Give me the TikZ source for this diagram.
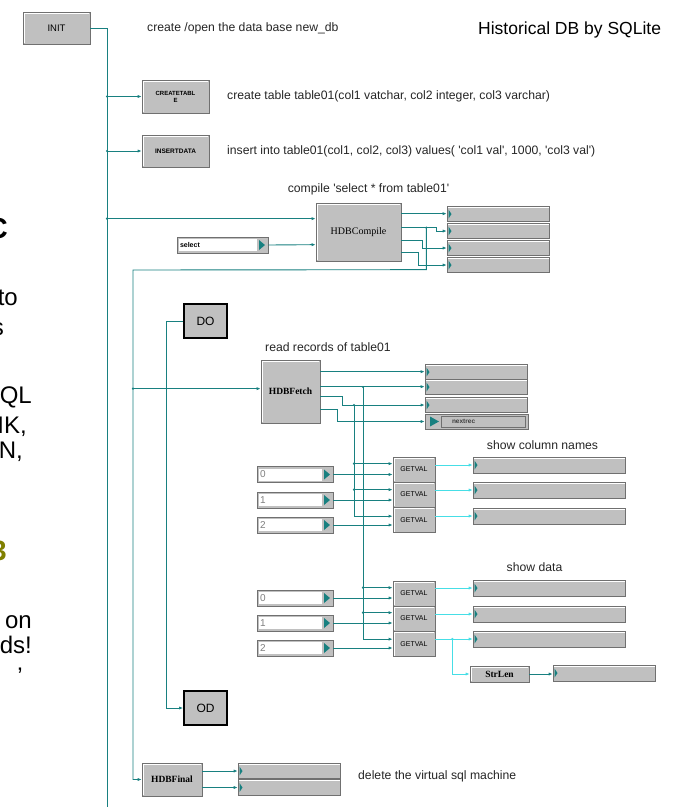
\documentclass[tikz,border=0pt]{standalone}
\usepackage{fontspec}
\setmainfont{Liberation Sans}
\newfontfamily\blockserif{Liberation Serif}
\usetikzlibrary{arrows.meta,calc}

\definecolor{wireteal}{RGB}{24,128,128}
\definecolor{wirecyan}{RGB}{70,222,230}
\definecolor{panelgray}{RGB}{192,192,192}
\definecolor{edgegray}{RGB}{112,112,112}
\definecolor{olivetext}{RGB}{128,128,0}
\newcommand\sqmark{\textquotesingle}

\tikzset{
  px/.style={font=\fontsize{#1}{#1}\selectfont},
  lbl/.style={inner sep=0pt, px=12.2, text=black!85},
  frag/.style={inner sep=0pt, anchor=base east, px=24},
  block/.style={rectangle, inner sep=0pt, align=center, fill=panelgray, draw=edgegray, line width=0.7pt,
    path picture={\draw[white, line width=0.9pt]
      ([shift={(1pt,1pt)}]path picture bounding box.south west) |- ([shift={(-1pt,-1pt)}]path picture bounding box.north east);}},
  sblock/.style={block, font=\blockserif\bfseries\fontsize{9.5}{9.5}\selectfont},
  loopbox/.style={rectangle, inner sep=0pt, fill=panelgray, draw=black, line width=1.8pt,
    minimum width=43pt, minimum height=34pt, px=12},
  outbar/.style={rectangle, inner sep=0pt, fill=panelgray, draw=edgegray, line width=0.6pt,
    minimum height=15pt,
    path picture={
      \draw[white, line width=0.8pt] ([yshift=-1pt]path picture bounding box.north west) -- ([yshift=-1pt]path picture bounding box.north east);
      \fill[wireteal] ([shift={(1.5pt,4.5pt)}]path picture bounding box.west) -- ++(3pt,-4.5pt) -- ++(-3pt,-4.5pt) -- cycle;}},
  infield/.style={rectangle, inner xsep=3pt, inner ysep=0pt, fill=panelgray, draw=edgegray, line width=0.6pt,
    minimum height=16pt, text width=70pt, align=left, px=10, text=gray,
    path picture={
      \fill[white] ([shift={(2pt,2pt)}]path picture bounding box.south west) rectangle ([shift={(-11pt,-2pt)}]path picture bounding box.north east);
      \fill[wireteal] ([shift={(-9pt,5pt)}]path picture bounding box.east) -- ++(6pt,-5pt) -- ++(-6pt,-5pt) -- cycle;}},
  wire/.style={draw=wireteal, line width=0.9pt},
  cwire/.style={draw=wirecyan, line width=0.9pt},
  tip/.style={-{Latex[length=4pt,width=3.2pt]}},
}

\begin{document}
\begin{tikzpicture}[x=1pt, y=-1pt]
\useasboundingbox (0,0) rectangle (679,807);
\clip (0,0) rectangle (679,807);
\fill[white] (0,0) rectangle (679,807);

% slide text running in from the left edge
\node[frag, font=\fontsize{29}{29}\selectfont\bfseries] (fragC) at (8,238) {C};
\node[frag] (fragTo) at (18,305) {to};
\node[frag] (fragS) at (4,335) {s};
\node[frag] (fragQL) at (32,403) {QL};
\node[frag] (fragIK) at (27,433) {IK,};
\node[frag] (fragN) at (23,458) {N,};
\node[frag, font=\fontsize{28}{28}\selectfont\bfseries, text=olivetext] (frag3) at (7,560) {3};
\node[frag] (fragOn) at (32,628) {on};
\node[frag] (fragDs) at (32,653) {ds!};
\node[frag] (fragQ) at (23,684) {’};

% captions
\node[lbl, anchor=west] (tOpen) at (147,28) {create /open the data base new\_db};
\node[lbl, px=17.5, anchor=west, text=black] (tTitle) at (478,30) {Historical DB by SQLite};
\node[lbl, anchor=west] (tCreate) at (227,96) {create table table01(col1 vatchar, col2 integer, col3 varchar)};
\node[lbl, anchor=west] (tInsert) at (227,151) {insert into table01(col1, col2, col3) values( \sqmark col1 val\sqmark, 1000, \sqmark col3 val\sqmark)};
\node[lbl] (tCompile) at (368.5,189) {compile \sqmark select * from table01\sqmark};
\node[lbl, anchor=west] (tRead) at (265,347) {read records of table01};
\node[lbl] (tCols) at (542.5,445) {show column names};
\node[lbl] (tData) at (534.5,567) {show data};
\node[lbl, anchor=west] (tDelete) at (358,776) {delete the virtual sql machine};

% function blocks
\node[block, minimum width=67pt, minimum height=32pt, px=9.5] (init) at (56.5,28) {INIT};
\node[block, minimum width=67pt, minimum height=33pt, font=\fontsize{6}{7}\selectfont\bfseries] (ctab) at (175.5,96.5) {CREATETABL\\E};
\node[block, minimum width=67pt, minimum height=32pt, font=\fontsize{6.5}{7}\selectfont\bfseries] (idata) at (175.5,151) {INSERTDATA};
\node[block, minimum width=85pt, minimum height=58pt, font=\blockserif\fontsize{10}{10}\selectfont] (cmp) at (358.5,232) {HDBCompile};
\node[sblock, minimum width=59pt, minimum height=63pt] (fetch) at (290.5,391.5) {HDBFetch};
\node[sblock, minimum width=60pt, minimum height=33pt] (fin) at (172,779.5) {HDBFinal};
\node[sblock, minimum width=59pt, minimum height=16pt] (strlen) at (499.5,674) {StrLen};
\node[loopbox] (do) at (205.5,321) {DO};
\node[loopbox] (od) at (205.5,708) {OD};

\foreach \n/\y in {gv1/469.5, gv2/494.5, gv3/520, dv1/593.5, dv2/618.5, dv3/644}
  \node[block, minimum width=42pt, minimum height=25pt, font=\fontsize{7}{7}\selectfont] (\n) at (414,\y) {GETVAL};

% input fields
\node[infield, text width=85pt, text=black, font=\fontsize{7}{7}\selectfont\bfseries] (sel) at (222.5,245) {select};
\foreach \n/\y/\t in {iv0/474.5/0, iv1/500/1, iv2/525/2, jv0/598/0, jv1/623/1, jv2/648/2}
  \node[infield] (\n) at (295,\y) {\t};

% output fields
\foreach \n/\y in {cf1/214, cf2/231, cf3/248, cf4/265}
  \node[outbar, minimum width=102pt] (\n) at (498,\y) {};
\foreach \n/\y in {ff1/372, ff2/387, ff3/405}
  \node[outbar, minimum width=102pt] (\n) at (476,\y) {};
\node[rectangle, inner sep=0pt, fill=panelgray, draw=edgegray, line width=0.6pt,
  minimum width=103pt, minimum height=15pt, text width=97pt, align=left,
  font=\fontsize{6.5}{6.5}\selectfont\bfseries, text=black!75,
  path picture={
    \draw[edgegray, line width=0.6pt] ([shift={(16pt,2pt)}]path picture bounding box.south west) rectangle ([shift={(-3pt,-2pt)}]path picture bounding box.north east);
    \fill[wireteal] ([shift={(5pt,5pt)}]path picture bounding box.west) -- ++(9pt,-5pt) -- ++(-9pt,-5pt) -- cycle;}]
  (ffn) at (476.5,421.5) {\hspace*{24pt}nextrec};
\foreach \n/\y in {cn1/465, cn2/490, cn3/516, dd1/588, dd2/614, dd3/639}
  \node[outbar, minimum width=152pt, minimum height=16pt] (\n) at (549,\y) {};
\node[outbar, minimum width=102pt, minimum height=16pt] (sl) at (604,673) {};
\node[outbar, minimum width=102pt] (fo1) at (289,771) {};
\node[outbar, minimum width=102pt, minimum height=16pt] (fo2) at (289,787.5) {};

% ports and wire taps
\coordinate (busEnd) at (107,807);
\coordinate (cmpA) at ($(cmp.north west)+(0,16)$);
\coordinate (cmpB) at ($(cmp.north west)+(0,42)$);
\coordinate (cmpO1) at ($(cmp.north east)+(0,11)$);
\coordinate (cmpO2) at ($(cmp.north east)+(0,25)$);
\coordinate (cmpO3) at ($(cmp.north east)+(0,38)$);
\coordinate (cmpO4) at ($(cmp.north east)+(0,50)$);
\coordinate (tapC) at ($(cmpO2)+(25,0)$);
\coordinate (ret) at ($(tapC)+(0,42)$);
\coordinate (rail) at (133,270);
\coordinate (fetchIn) at ($(fetch.north west)+(0,29)$);
\coordinate (fO1) at ($(fetch.north east)+(0,12)$);
\coordinate (fO2) at ($(fetch.north east)+(0,27)$);
\coordinate (fO3) at ($(fetch.north east)+(0,37)$);
\coordinate (fO4) at ($(fetch.north east)+(0,50)$);
\coordinate (tapA) at (354,405);
\coordinate (tapB) at (363,387);
\coordinate (g1a) at ($(gv1.north west)+(0,7)$);
\coordinate (g2a) at ($(gv2.north west)+(0,8)$);
\coordinate (g3a) at ($(gv3.north west)+(0,9)$);
\coordinate (d1a) at ($(dv1.north west)+(0,7)$);
\coordinate (d2a) at ($(dv2.north west)+(0,7)$);
\coordinate (d3a) at ($(dv3.north west)+(0,8)$);
\coordinate (tapS) at ($(dv3.east |- dd3.west)+(17,0)$);

% sequence bus from INIT
\draw[wire] (init.east) -| (busEnd);
\draw[wire, tip] (ctab.west -| busEnd) -- (ctab.west);
\draw[wire, tip] (idata.west -| busEnd) -- (idata.west);
\draw[wire, tip] (cmpA -| busEnd) -- (cmpA);
\draw[wire, tip] (sel.east) -- (cmpB);
\foreach \p in {ctab.west, idata.west, cmpA}
  \fill[wireteal] (\p -| busEnd) circle (1.2pt);

% HDBCompile outputs
\draw[wire, tip] (cmpO1) -- (cmpO1 -| cf1.west);
\draw[wire, tip] (cmpO2) -| ($(cf2.west)+(-10,0)$) -- (cf2.west);
\draw[wire, tip] (cmpO3) -- ++(21,0) |- (cf3.west);
\draw[wire, tip] (cmpO4) -- ++(17,0) |- (cf4.west);
\draw[wire, tip] (tapC) -- (ret) -- (rail) |- (fin.west);
\fill[wireteal] (tapC) circle (1.2pt);
\draw[wire, tip] (fetchIn -| rail) -- (fetchIn);
\fill[wireteal] (fetchIn -| rail) circle (1.2pt);

% HDBFetch outputs
\draw[wire, tip] (fO1) -- (fO1 -| ff1.west);
\draw[wire, tip] (fO2) -- (fO2 -| ff2.west);
\draw[wire, tip] (fO3) -- ++(22,0) |- (ff3.west);
\draw[wire, tip] (fO4) -- ++(17,0) |- (ffn.west);
\fill[wireteal] (tapA) circle (1.2pt);
\fill[wireteal] (tapB) circle (1.2pt);

% handle to the GETVAL blocks
\draw[wire, tip] (tapA) |- (g3a);
\draw[wire, tip] (g1a -| tapA) -- (g1a);
\draw[wire, tip] (g2a -| tapA) -- (g2a);
\fill[wireteal] (g1a -| tapA) circle (1.2pt);
\fill[wireteal] (g2a -| tapA) circle (1.2pt);
\draw[wire, tip] (tapB) |- (d3a);
\draw[wire, tip] (d1a -| tapB) -- (d1a);
\draw[wire, tip] (d2a -| tapB) -- (d2a);
\fill[wireteal] (d1a -| tapB) circle (1.2pt);
\fill[wireteal] (d2a -| tapB) circle (1.2pt);

% column indices
\draw[wire, tip] (iv0.east) -- (iv0.east -| gv1.west);
\draw[wire, tip] (iv1.east) -- (iv1.east -| gv2.west);
\draw[wire, tip] (iv2.east) -- (iv2.east -| gv3.west);
\draw[wire, tip] (jv0.east) -- (jv0.east -| dv1.west);
\draw[wire, tip] (jv1.east) -- (jv1.east -| dv2.west);
\draw[wire, tip] (jv2.east) -- (jv2.east -| dv3.west);

% string results
\draw[cwire, tip] (gv1.east |- cn1.west) -- (cn1.west);
\draw[cwire, tip] (gv2.east |- cn2.west) -- (cn2.west);
\draw[cwire, tip] (gv3.east |- cn3.west) -- (cn3.west);
\draw[cwire, tip] (dv1.east |- dd1.west) -- (dd1.west);
\draw[cwire, tip] (dv2.east |- dd2.west) -- (dd2.west);
\draw[cwire, tip] (dv3.east |- dd3.west) -- (dd3.west);
\draw[cwire, tip] (tapS) |- (strlen.west);
\fill[wirecyan] (tapS) circle (1.2pt);
\draw[wire, tip] (strlen.east) -- (strlen.east -| sl.west);

% loop and final outputs
\draw[wire, tip] (do.west) -- ++(-17,0) |- (od.west);
\draw[wire, tip] (fin.east |- fo1.west) -- (fo1.west);
\draw[wire, tip] (fin.east |- fo2.west) -- (fo2.west);
\end{tikzpicture}
\end{document}
